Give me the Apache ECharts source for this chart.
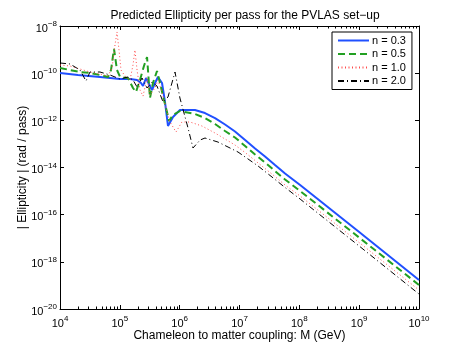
<!DOCTYPE html>
<html><head><meta charset="utf-8">
<script src="https://cdn.jsdelivr.net/npm/echarts@6/dist/echarts.min.js"></script>
<style>html,body{margin:0;padding:0;background:#fff}#c{width:463px;height:349px}</style>
</head><body><div id="c"></div>
<script>
const titleText = 'Predicted Ellipticity per pass for the PVLAS set\u2212up';
const xName = 'Chameleon to matter coupling: M (GeV)';
const yName = '| Ellipticity | (rad / pass)';
const seriesNames = ['n = 0.3', 'n = 0.5', 'n = 1.0', 'n = 2.0'];

// n = 0.3 (blue, solid)
const m03 = [1e4, 2e4, 4.66e4, 1.0e5, 1.48e5, 1.94e5, 2.26e5, 2.44e5, 2.74e5, 3.45e5, 3.87e5, 4.34e5, 5.07e5, 5.69e5, 6.38e5, 7.74e5, 1.01e6, 1.09e6, 1.8e6, 2.65e6, 3.9e6, 5.73e6, 8.41e6, 1.24e7, 1.82e7, 2.67e7, 3.92e7, 5.77e7, 1.03e8, 1e9, 1e10];
const e03 = [1.02e-10, 8.36e-11, 6.87e-11, 5.65e-11, 5.65e-11, 5.13e-11, 3.83e-11, 2.85e-11, 6.24e-11, 1.93e-11, 3.83e-11, 6.87e-11, 3.83e-11, 5.98e-12, 5.75e-13, 1.38e-12, 2.74e-12, 3.33e-12, 2.74e-12, 2.04e-12, 1.25e-12, 6.65e-13, 3.36e-13, 1.46e-13, 6.38e-14, 2.92e-14, 1.27e-14, 5.56e-15, 1.81e-15, 1.84e-17, 1.69e-19];

// n = 0.5 (green, dashed)
const m05 = [1e4, 1.47e4, 2.16e4, 3.17e4, 4.66e4, 6.34e4, 7.12e4, 7.99e4, 8.97e4, 1.01e5, 1.37e5, 1.66e5, 1.86e5, 2.17e5, 2.53e5, 2.85e5, 3.19e5, 3.58e5, 4.18e5, 4.69e5, 5.47e5, 6.14e5, 6.63e5, 7.74e5, 1.01e6, 1.8e6, 2.65e6, 3.9e6, 5.73e6, 8.41e6, 1.24e7, 1.82e7, 2.67e7, 3.92e7, 5.77e7, 1.03e8, 1e9, 1e10];
const e05 = [1.66e-10, 1.36e-10, 1.12e-10, 1.02e-10, 8.36e-11, 6.87e-11, 1.36e-10, 1.06e-9, 1.36e-10, 6.87e-11, 6.24e-11, 2.35e-11, 1.59e-11, 5.13e-11, 2.01e-10, 4.84e-10, 8.85e-12, 3.83e-11, 1.24e-10, 3.83e-11, 7.28e-12, 2.25e-12, 9.35e-13, 1.68e-12, 2.49e-12, 1.85e-12, 1.25e-12, 6.98e-13, 3.52e-13, 1.87e-13, 8.15e-14, 3.55e-14, 1.63e-14, 7.1e-15, 3.09e-15, 1.01e-15, 1.07e-17, 1.04e-19];

// n = 1.0 (red, dotted)
const m10 = [1e4, 1.47e4, 2.16e4, 3.17e4, 4.66e4, 6.34e4, 7.4e4, 8.3e4, 8.97e4, 9.69e4, 1.046e5, 1.22e5, 1.48e5, 1.66e5, 1.79e5, 1.94e5, 2.17e5, 2.44e5, 2.85e5, 3.19e5, 3.87e5, 4.34e5, 5.07e5, 5.91e5, 6.9e5, 8.69e5, 1.09e6, 1.49e6, 2.36e6, 3.9e6, 5.73e6, 8.41e6, 1.24e7, 1.82e7, 2.67e7, 3.92e7, 5.77e7, 1.03e8, 1e9, 1e10];
const e10 = [2.22e-10, 2.01e-10, 1.5e-10, 1.12e-10, 9.2e-11, 7.58e-11, 1.66e-10, 1.56e-9, 5.57e-9, 9.6e-10, 1.36e-10, 7.58e-11, 5.13e-11, 2.22e-10, 9.6e-10, 1.36e-10, 1.93e-11, 1.07e-11, 6.24e-11, 1.19e-11, 2.35e-11, 5.13e-11, 1.59e-11, 3.33e-12, 8.49e-13, 3.2e-13, 8.49e-13, 8.49e-13, 5.74e-13, 2.9e-13, 1.61e-13, 8.98e-14, 4.32e-14, 1.98e-14, 9.05e-15, 4.14e-15, 1.81e-15, 6.17e-16, 6.59e-18, 6.37e-20];

// n = 2.0 (black, dash-dot)
const m20 = [1e4, 1.47e4, 2.16e4, 2.72e4, 3.17e4, 4.66e4, 6.85e4, 1.007e5, 1.37e5, 1.66e5, 1.94e5, 2.35e5, 2.85e5, 3.45e5, 4.18e5, 5.27e5, 6.38e5, 8.36e5, 1.01e6, 1.38e6, 1.67e6, 2.19e6, 2.65e6, 4.37e6, 6.43e6, 9.44e6, 1.39e7, 2.04e7, 3.49e7, 5.77e7, 1.03e8, 1e9, 1e10];
const e20 = [2.7e-10, 2.45e-10, 1.36e-10, 4.65e-11, 1.12e-10, 1.12e-10, 8.36e-11, 5.65e-11, 6.87e-11, 5.13e-11, 2.59e-11, 6.24e-11, 2.35e-11, 4.22e-11, 2.85e-11, 5.98e-12, 9.75e-12, 1.12e-10, 8.85e-12, 4.72e-13, 6.7e-14, 1.46e-13, 1.78e-13, 1.2e-13, 7.39e-14, 4.53e-14, 2.29e-14, 1.16e-14, 3.95e-15, 1.42e-15, 4.6e-16, 4.68e-18, 4.31e-20];

const xMin = 1e4, xMax = 1e10, yMin = 1e-20, yMax = 1e-8;
const xMinorTicks = [];
for (let k = 4; k < 10; k++) for (let j = 2; j <= 9; j++) xMinorTicks.push(j * Math.pow(10, k));

const FONT = '"Liberation Sans", Arial, Helvetica, sans-serif';
function pair(ms, es) { return ms.map((m, i) => [m, es[i]]); }
function supFmt(v) {
  const e = Math.round(Math.log10(v));
  return '{b|10}{s|' + String(e).replace('-', '\u2212') + '}';
}
const rich = {
  b: { fontSize: 11, fontFamily: FONT, color: '#000', verticalAlign: 'bottom', lineHeight: 16 },
  s: { fontSize: 8, fontFamily: FONT, color: '#000', verticalAlign: 'bottom', lineHeight: 16, padding: [0, 0, 6, 0] }
};
const baseX = { type: 'log', logBase: 10, min: xMin, max: xMax, splitNumber: 6, splitLine: { show: false } };
const baseY = { type: 'log', logBase: 10, min: yMin, max: yMax, interval: 2, splitLine: { show: false } };
const line = { show: true, lineStyle: { color: '#000', width: 1 } };

const chart = echarts.init(document.getElementById('c'), null, { renderer: 'canvas' });
chart.setOption({
  animation: false,
  backgroundColor: '#fff',
  textStyle: { fontFamily: FONT },
  title: { text: titleText, left: 240, textAlign: 'center', top: 5,
    textStyle: { fontSize: 12, fontWeight: 'normal', color: '#000', fontFamily: FONT } },
  legend: {
    orient: 'vertical', left: 332, top: 32, data: seriesNames,
    itemWidth: 31, itemHeight: 13, itemGap: 0.5,
    padding: [2, 6, 2, 5], borderColor: '#000', borderWidth: 1, backgroundColor: '#fff',
    itemStyle: { opacity: 0, borderWidth: 0 },
    textStyle: { fontSize: 11, lineHeight: 13, color: '#000', fontFamily: FONT, padding: [0, 0, 0, -2] }
  },
  grid: { left: 60, right: 44, top: 26, bottom: 40, containLabel: false, outerBoundsMode: 'none' },
  xAxis: [
    Object.assign({}, baseX, { position: 'bottom', axisLine: line,
      axisTick: { show: true, inside: true, length: 4, lineStyle: { color: '#000' } },
      axisLabel: { show: true, margin: 4, formatter: supFmt, rich: rich },
      name: xName, nameLocation: 'middle', nameGap: 21, nameMoveOverlap: false,
      nameTextStyle: { fontSize: 12, color: '#000', fontFamily: FONT } }),
    Object.assign({}, baseX, { position: 'top', axisLine: line,
      axisTick: { show: true, inside: true, length: 4, lineStyle: { color: '#000' } },
      axisLabel: { show: false } }),
    Object.assign({}, baseX, { position: 'bottom', axisLine: { show: false },
      axisTick: { show: true, inside: true, length: 2.5, customValues: xMinorTicks, lineStyle: { color: '#000' } },
      axisLabel: { show: false } }),
    Object.assign({}, baseX, { position: 'top', axisLine: { show: false },
      axisTick: { show: true, inside: true, length: 2.5, customValues: xMinorTicks, lineStyle: { color: '#000' } },
      axisLabel: { show: false } })
  ],
  yAxis: [
    Object.assign({}, baseY, { position: 'left', axisLine: line,
      axisTick: { show: true, inside: true, length: 4, lineStyle: { color: '#000' } },
      axisLabel: { show: true, margin: 3, formatter: supFmt, rich: rich },
      name: yName, nameLocation: 'middle', nameGap: 31, nameRotate: 90, nameMoveOverlap: false,
      nameTextStyle: { fontSize: 12, color: '#000', fontFamily: FONT } }),
    Object.assign({}, baseY, { position: 'right', axisLine: line,
      axisTick: { show: true, inside: true, length: 4, lineStyle: { color: '#000' } },
      axisLabel: { show: false } })
  ],
  series: [
    { name: seriesNames[0], type: 'line', data: pair(m03, e03), showSymbol: false, symbol: 'none',
      color: '#2050ff', lineStyle: { color: '#2050ff', width: 2, type: 'solid' } },
    { name: seriesNames[1], type: 'line', data: pair(m05, e05), showSymbol: false, symbol: 'none',
      color: '#22a022', lineStyle: { color: '#22a022', width: 2, type: [7, 4] } },
    { name: seriesNames[2], type: 'line', data: pair(m10, e10), showSymbol: false, symbol: 'none',
      color: '#ff4c4c', lineStyle: { color: '#ff4c4c', width: 1, type: [1, 2.5] } },
    { name: seriesNames[3], type: 'line', data: pair(m20, e20), showSymbol: false, symbol: 'none',
      color: '#000000', lineStyle: { color: '#000000', width: 1, type: [6, 3, 1, 3] } }
  ]
});
</script>
</body></html>
